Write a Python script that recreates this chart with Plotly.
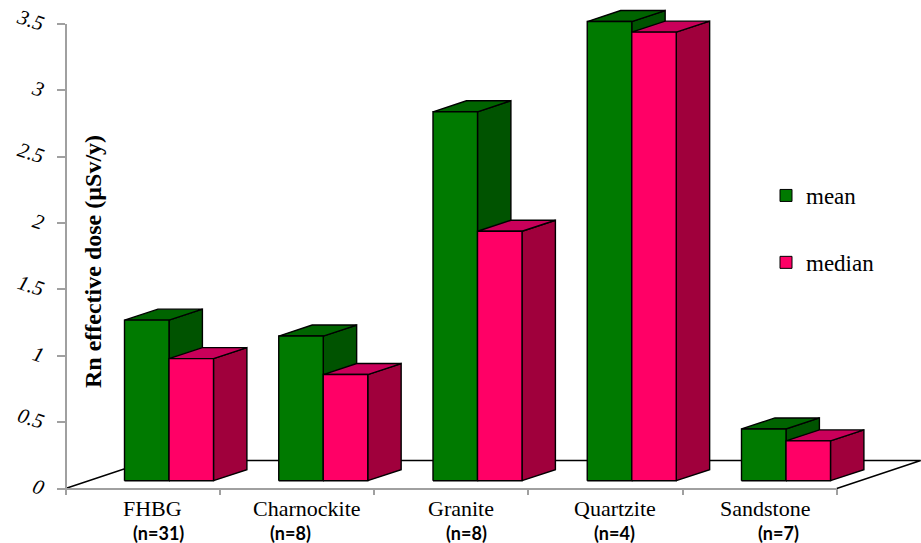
import plotly.graph_objects as go

# ---- data -------------------------------------------------------------
categories = ["FHBG", "Charnockite", "Granite", "Quartzite", "Sandstone"]
sample_counts = ["(n=31)", "(n=8)", "(n=8)", "(n=4)", "(n=7)"]
mean_dose = [1.21, 1.09, 2.78, 3.46, 0.39]
median_dose = [0.92, 0.80, 1.88, 3.38, 0.30]
y_ticks = [0, 0.5, 1, 1.5, 2, 2.5, 3, 3.5]

# ---- canvas / projection ---------------------------------------------
W, H = 921, 543
X0, UX = 65.5, 154.25      # pixel of category 0, pixels per category
Y0, UY = 488.5, 132.7      # pixel of value 0, pixels per value unit


def ux(p):
    return (p - X0) / UX


def uy(p):
    return (Y0 - p) / UY


# oblique depth offsets (pixels -> axis units)
FLOOR_DX, FLOOR_DY = 84 / UX, 28 / UY
BAR_SX0, BAR_SY0 = 23.4 / UX, 7.8 / UY     # bar front plane
BAR_SX1, BAR_SY1 = 56.8 / UX, 18.8 / UY    # bar back plane
BAR_OFF = 35.6 / UX                         # first bar left edge inside a category
BAR_W = 44.5 / UX

GREEN = dict(front="#007a00", top="#006400", side="#005300")
PINK = dict(front="#ff0066", top="#c9005a", side="#a0003c")

fig = go.Figure()

# floor outline (front edge is the category axis line)
n = len(categories)
fig.add_trace(go.Scatter(
    x=[0, FLOOR_DX, n + FLOOR_DX, n],
    y=[0, FLOOR_DY, FLOOR_DY, 0],
    mode="lines", line=dict(color="black", width=1.4),
    hoverinfo="skip", showlegend=False))


def faces(values, series_idx):
    side_x, side_y, top_x, top_y, front_x, front_y = [], [], [], [], [], []
    for i, v in enumerate(values):
        xl = i + BAR_OFF + series_idx * BAR_W
        xr = xl + BAR_W
        # front
        front_x += [xl + BAR_SX0, xr + BAR_SX0, xr + BAR_SX0, xl + BAR_SX0, xl + BAR_SX0, None]
        front_y += [BAR_SY0, BAR_SY0, v + BAR_SY0, v + BAR_SY0, BAR_SY0, None]
        # right side
        side_x += [xr + BAR_SX0, xr + BAR_SX1, xr + BAR_SX1, xr + BAR_SX0, xr + BAR_SX0, None]
        side_y += [BAR_SY0, BAR_SY1, v + BAR_SY1, v + BAR_SY0, BAR_SY0, None]
        # top
        top_x += [xl + BAR_SX0, xr + BAR_SX0, xr + BAR_SX1, xl + BAR_SX1, xl + BAR_SX0, None]
        top_y += [v + BAR_SY0, v + BAR_SY0, v + BAR_SY1, v + BAR_SY1, v + BAR_SY0, None]
    return (side_x, side_y), (top_x, top_y), (front_x, front_y)


for idx, (vals, col) in enumerate([(mean_dose, GREEN), (median_dose, PINK)]):
    side, top, front = faces(vals, idx)
    for (fx, fy), c in [(side, col["side"]), (top, col["top"]), (front, col["front"])]:
        fig.add_trace(go.Scatter(
            x=fx, y=fy, mode="lines", fill="toself", fillcolor=c,
            line=dict(color="black", width=1.4), hoverinfo="skip",
            showlegend=False))

# legend entries
fig.add_trace(go.Bar(x=[None], y=[None], name="mean", legendgroup="mean",
                     marker=dict(color=GREEN["front"], line=dict(color="black", width=1))))
fig.add_trace(go.Bar(x=[None], y=[None], name="median", legendgroup="median",
                     marker=dict(color=PINK["front"], line=dict(color="black", width=1))))

# helper trace so the display axes (x2 / y2) get drawn
fig.add_trace(go.Scatter(x=[None], y=[None], xaxis="x2", yaxis="y2",
                         showlegend=False, hoverinfo="skip"))

# category labels
name_nudge = [10, 10, 10, 10, 5]
count_nudge = [16, -6, 15, 9, 19]
for i, (cat, cnt) in enumerate(zip(categories, sample_counts)):
    cx = i + 0.5
    fig.add_annotation(x=cx + name_nudge[i] / UX, y=uy(508.5), text=cat,
                       showarrow=False, xanchor="center", yanchor="middle",
                       borderpad=0,
                       font=dict(family="Liberation Serif", size=22, color="black"))
    fig.add_annotation(x=cx + count_nudge[i] / UX, y=uy(532.5), text="<b>" + cnt + "</b>",
                       showarrow=False, xanchor="center", yanchor="middle",
                       borderpad=0,
                       font=dict(family="Lato", size=18, color="black"))

# value axis title
fig.add_annotation(x=ux(93), y=uy(262), text="<b>Rn effective dose (µSv/y)</b>",
                   textangle=-90, showarrow=False, xanchor="center", yanchor="middle",
                   font=dict(family="Liberation Serif", size=24, color="black"))

AX_GRAY = "#a0a0a0"
fig.update_layout(
    template="none",
    width=W, height=H,
    margin=dict(l=0, r=0, t=0, b=0, pad=0),
    paper_bgcolor="white", plot_bgcolor="rgba(0,0,0,0)",
    xaxis=dict(range=[ux(0), ux(W)], visible=False, fixedrange=True, automargin=False),
    yaxis=dict(range=[uy(H), uy(0)], visible=False, fixedrange=True, automargin=False),
    xaxis2=dict(domain=[X0 / W, (X0 + n * UX) / W], range=[0, n],
                anchor="free", position=(H - Y0) / H, automargin=False,
                showline=True, linecolor=AX_GRAY, linewidth=1.8,
                ticks="outside", ticklen=6, tickcolor=AX_GRAY, tickwidth=1.5,
                tickvals=list(range(n + 1)), showticklabels=False,
                showgrid=False, zeroline=False, fixedrange=True),
    yaxis2=dict(domain=[(H - Y0) / H, (H - (Y0 - 3.5 * UY)) / H], range=[0, 3.5],
                anchor="free", position=X0 / W, automargin=False,
                showline=True, linecolor=AX_GRAY, linewidth=1.8,
                ticks="outside", ticklen=8, tickcolor=AX_GRAY, tickwidth=1.5,
                tickvals=y_ticks, ticktext=[f"{t:g}" for t in y_ticks],
                tickangle=18, ticklabelstandoff=8,
                tickfont=dict(family="Liberation Serif", size=21, color="black",
                              style="italic"),
                showgrid=False, zeroline=False, fixedrange=True),
    showlegend=True,
    legend=dict(x=(766 / W), y=(H - 174) / H,
                xanchor="left", yanchor="top", borderwidth=0,
                font=dict(family="Liberation Serif", size=23, color="black"),
                tracegroupgap=34, bgcolor="rgba(0,0,0,0)", traceorder="grouped"),
)

fig.write_html("out.html")
